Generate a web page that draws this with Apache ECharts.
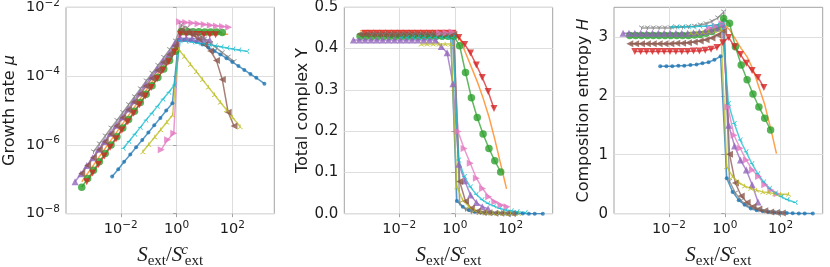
<!DOCTYPE html>
<html><head><meta charset="utf-8">
<script src="https://cdn.jsdelivr.net/npm/echarts@6/dist/echarts.min.js"></script>
<style>html,body{margin:0;padding:0;background:#fff}#c{width:830px;height:267px}</style>
</head><body><div id="c"></div>
<script>
// x values are log10(S_ext / S^c_ext); mu values are log10(growth rate)
const xTickValues = [-2, 0, 2];
const muTickValues = [-8, -6, -4, -2];
const yTickValues = [0, 0.1, 0.2, 0.3, 0.4, 0.5];
const hTickValues = [0, 1, 2, 3];

const xBlue = [-2.31,-2.09,-1.88,-1.66,-1.45,-1.23,-1.01,-0.80,-0.58,-0.37,-0.15,0.07,0.28,0.50,0.71,0.93,1.14,1.36,1.57,1.79,2.00,2.22,2.43,2.65,2.86,3.15];
const muBlue = [-6.92,-6.71,-6.49,-6.28,-6.07,-5.86,-5.64,-5.43,-5.22,-5.00,-4.79,-2.95,-2.95,-2.96,-3.00,-3.08,-3.17,-3.27,-3.37,-3.48,-3.59,-3.71,-3.82,-3.94,-4.05,-4.22];
const yBlue = [0.43,0.43,0.43,0.43,0.43,0.43,0.43,0.43,0.43,0.43,0.43,0.031,0.017,0.009,0.005,0.003,0.002,0.0015,0.001,0.0007,0.0005,0.0003,0.0002,0.0001,0.0001,0.0001];
const hBlue = [2.50,2.50,2.50,2.51,2.51,2.52,2.53,2.55,2.57,2.61,2.67,0.60,0.37,0.23,0.15,0.09,0.06,0.04,0.03,0.02,0.015,0.01,0.007,0.005,0.003,0.002];

const xOrange = [-3.40,-3.19,-2.98,-2.77,-2.56,-2.35,-2.14,-1.93,-1.72,-1.51,-1.30,-1.09,-0.88,-0.67,-0.46,-0.25,-0.04,0.17,0.38,0.59,0.80,1.01,1.22,1.43,1.64,1.85];
const muOrange = [-7.07,-6.83,-6.59,-6.34,-6.10,-5.86,-5.62,-5.38,-5.14,-4.90,-4.66,-4.41,-4.17,-3.93,-3.69,-3.45,-3.18,-2.74,-2.75,-2.75,-2.76,-2.76,-2.77,-2.77,-2.78,-2.78];
const yOrange = [0.443,0.443,0.443,0.443,0.443,0.443,0.443,0.443,0.443,0.443,0.443,0.443,0.443,0.443,0.443,0.443,0.443,0.425,0.39,0.355,0.32,0.28,0.235,0.18,0.12,0.06];
const hOrange = [3.05,3.05,3.05,3.05,3.05,3.05,3.05,3.05,3.05,3.05,3.05,3.06,3.07,3.08,3.10,3.14,3.22,3.12,2.96,2.80,2.66,2.45,2.15,1.85,1.45,1.02];

const xGreen = [-3.40,-3.19,-2.98,-2.77,-2.56,-2.35,-2.14,-1.93,-1.72,-1.51,-1.30,-1.09,-0.88,-0.67,-0.46,-0.25,-0.04,0.17,0.38,0.59,0.80,1.01,1.22,1.43,1.64];
const muGreen = [-7.23,-6.98,-6.74,-6.49,-6.25,-6.00,-5.76,-5.51,-5.26,-5.02,-4.77,-4.53,-4.28,-4.04,-3.79,-3.55,-3.28,-2.70,-2.71,-2.71,-2.71,-2.72,-2.72,-2.72,-2.73];
const yGreen = [0.43,0.43,0.43,0.43,0.43,0.43,0.43,0.43,0.43,0.43,0.43,0.43,0.43,0.43,0.43,0.43,0.43,0.407,0.342,0.281,0.233,0.193,0.158,0.128,0.101];
const hGreen = [3.02,3.02,3.02,3.02,3.02,3.02,3.02,3.02,3.02,3.02,3.02,3.03,3.04,3.06,3.09,3.15,3.31,3.23,2.83,2.52,2.27,2.03,1.81,1.62,1.42];

const xRed = [-3.22,-3.01,-2.80,-2.59,-2.38,-2.17,-1.96,-1.75,-1.54,-1.33,-1.12,-0.91,-0.70,-0.49,-0.28,-0.07,0.14,0.35,0.56,0.77,0.98,1.19,1.40];
const muRed = [-7.07,-6.82,-6.57,-6.32,-6.07,-5.82,-5.57,-5.33,-5.08,-4.83,-4.58,-4.33,-4.08,-3.83,-3.58,-3.30,-2.78,-2.79,-2.79,-2.79,-2.80,-2.80,-2.80];
const yRed = [0.437,0.437,0.437,0.437,0.437,0.437,0.437,0.437,0.437,0.437,0.437,0.437,0.437,0.437,0.437,0.437,0.427,0.41,0.389,0.36,0.33,0.296,0.255];
const hRed = [2.75,2.75,2.75,2.75,2.75,2.75,2.75,2.75,2.75,2.75,2.76,2.76,2.77,2.79,2.82,2.90,2.99,2.83,2.70,2.55,2.43,2.31,2.14];

const xPurple = [-3.64,-3.43,-3.22,-3.01,-2.80,-2.59,-2.38,-2.17,-1.96,-1.75,-1.54,-1.33,-1.12,-0.91,-0.70,-0.49,-0.28,-0.07,0.14,0.35,0.56,0.77,0.98,1.19];
const muPurple = [-7.07,-6.84,-6.60,-6.37,-6.13,-5.90,-5.66,-5.43,-5.19,-4.96,-4.72,-4.49,-4.25,-4.02,-3.79,-3.57,-3.36,-3.05,-2.90,-2.90,-2.91,-2.92,-2.93,-2.95];
const yPurple = [0.421,0.421,0.421,0.421,0.421,0.421,0.421,0.421,0.421,0.421,0.421,0.421,0.421,0.421,0.421,0.405,0.39,0.315,0.12,0.08,0.045,0.027,0.017,0.012];
const hPurple = [3.06,3.06,3.06,3.06,3.06,3.06,3.06,3.06,3.06,3.06,3.06,3.06,3.07,3.08,3.09,3.11,3.15,3.21,1.50,1.15,0.91,0.74,0.49,0.20];

const xBrown = [-3.40,-3.19,-2.98,-2.77,-2.56,-2.35,-2.14,-1.93,-1.72,-1.51,-1.30,-1.09,-0.88,-0.67,-0.46,-0.25,-0.04,0.17,0.38,0.59,0.80,1.01,1.22,1.43,1.64,1.85,2.06];
const muBrown = [-6.83,-6.60,-6.37,-6.14,-5.91,-5.68,-5.45,-5.21,-4.98,-4.75,-4.52,-4.29,-4.06,-3.83,-3.60,-3.37,-3.12,-2.66,-2.72,-2.80,-2.92,-3.08,-3.27,-3.55,-4.10,-5.05,-5.45];
const yBrown = [0.435,0.435,0.435,0.435,0.435,0.435,0.435,0.435,0.435,0.435,0.435,0.435,0.435,0.435,0.435,0.435,0.435,0.078,0.030,0.013,0.006,0.003,0.002,0.001,0.001,0.0005,0.0003];
const hBrown = [2.88,2.88,2.88,2.88,2.88,2.88,2.88,2.88,2.89,2.89,2.90,2.91,2.93,2.95,2.98,3.03,3.10,1.01,0.52,0.30,0.19,0.12,0.08,0.05,0.03,0.02,0.01];

const xPink = [-0.55,-0.32,-0.10,0.11,0.33,0.55,0.77,0.99,1.21,1.43,1.65,1.87];
const muPink = [-6.14,-5.85,-5.66,-2.42,-2.44,-2.46,-2.48,-2.50,-2.52,-2.54,-2.56,-2.58];
const yPink = [0.437,0.438,0.44,0.199,0.158,0.122,0.086,0.061,0.041,0.029,0.021,0.017];
const hPink = [3.15,3.18,3.22,1.81,1.33,1.11,0.91,0.74,0.63,0.49,0.40,0.34];

const xGray = [-2.98,-2.77,-2.56,-2.35,-2.14,-1.93,-1.72,-1.51,-1.30,-1.09,-0.88,-0.67,-0.46,-0.25,-0.04,0.17,0.38,0.59,0.80,1.01,1.22,1.43,1.64,1.85,2.06];
const muGray = [-6.20,-5.97,-5.74,-5.51,-5.29,-5.06,-4.83,-4.60,-4.37,-4.14,-3.92,-3.69,-3.46,-3.23,-2.98,-2.52,-2.60,-2.70,-2.80,-2.92,-3.05,-3.18,-3.32,-3.45,-3.58];
const yGray = [0.433,0.433,0.433,0.433,0.433,0.433,0.433,0.433,0.433,0.433,0.433,0.433,0.433,0.433,0.433,0.025,0.010,0.004,0.002,0.001,0.0007,0.0005,0.0003,0.0002,0.0001];
const hGray = [3.15,3.15,3.15,3.15,3.15,3.15,3.16,3.16,3.17,3.18,3.20,3.22,3.26,3.32,3.42,0.55,0.35,0.22,0.14,0.09,0.06,0.04,0.03,0.02,0.01];

const xOlive = [-1.21,-1.00,-0.78,-0.57,-0.35,-0.14,0.07,0.28,0.50,0.71,0.93,1.14,1.36,1.57,1.79,2.00,2.28];
const muOlive = [-6.20,-5.99,-5.77,-5.56,-5.34,-5.13,-3.22,-3.43,-3.66,-3.87,-4.10,-4.32,-4.54,-4.76,-4.98,-5.19,-5.47];
const yOlive = [0.411,0.411,0.411,0.411,0.411,0.411,0.065,0.033,0.017,0.009,0.005,0.003,0.002,0.0015,0.001,0.001,0.0008];
const hOlive = [3.07,3.07,3.08,3.09,3.10,3.13,0.80,0.63,0.53,0.47,0.43,0.40,0.37,0.36,0.34,0.33,0.33];

const xCyan = [-1.91,-1.71,-1.50,-1.30,-1.10,-0.89,-0.69,-0.49,-0.28,-0.08,0.13,0.34,0.55,0.76,0.97,1.18,1.39,1.60,1.81,2.02,2.23,2.52];
const muCyan = [-6.10,-5.90,-5.69,-5.49,-5.28,-5.08,-4.88,-4.67,-4.47,-4.26,-2.97,-2.99,-3.01,-3.04,-3.06,-3.09,-3.12,-3.15,-3.18,-3.21,-3.24,-3.28];
const yCyan = [0.427,0.427,0.427,0.427,0.427,0.427,0.427,0.427,0.427,0.427,0.13,0.09,0.065,0.047,0.034,0.025,0.019,0.013,0.009,0.007,0.005,0.003];
const hCyan = [3.17,3.17,3.17,3.17,3.17,3.18,3.18,3.19,3.20,3.22,1.87,1.53,1.25,1.05,0.85,0.68,0.54,0.43,0.35,0.29,0.24,0.19];

// ---------- styling ----------
const SPINE = '#a3a3a3', GRIDC = '#dedede', TXT = '#1c1c1c';
const XMIN = -3.965, XMAX = 3.505;
const TRI_DOWN = 'path://M5,5L5,10M5,5L0.67,2.5M5,5L9.33,2.5';
const TRI_UP = 'path://M5,5L5,0M5,5L0.67,7.5M5,5L9.33,7.5';
const TRI_LEFT = 'path://M5,5L0,5M5,5L7.5,0.67M5,5L7.5,9.33';

const defs = [
  {c:'#1f77b4', x:xBlue, a:muBlue, b:yBlue, h:hBlue, sym:'circle', size:4, rot:0, line:false},
  {c:'#ff7f0e', x:xOrange, a:muOrange, b:yOrange, h:hOrange, sym:'none', size:0, rot:0, line:false},
  {c:'#2ca02c', x:xGreen, a:muGreen, b:yGreen, h:hGreen, sym:'circle', size:7.5, rot:0, line:false},
  {c:'#d62728', x:xRed, a:muRed, b:yRed, h:hRed, sym:'triangle', size:7, rot:180, line:false},
  {c:'#9467bd', x:xPurple, a:muPurple, b:yPurple, h:hPurple, sym:'triangle', size:7, rot:0, line:false},
  {c:'#8c564b', x:xBrown, a:muBrown, b:yBrown, h:hBrown, sym:'triangle', size:7, rot:90, line:false},
  {c:'#e377c2', x:xPink, a:muPink, b:yPink, h:hPink, sym:'triangle', size:7, rot:-90, line:false},
  {c:'#7f7f7f', x:xGray, a:muGray, b:yGray, h:hGray, sym:TRI_DOWN, size:5, rot:0, line:true},
  {c:'#bcbd22', x:xOlive, a:muOlive, b:yOlive, h:hOlive, sym:TRI_UP, size:5, rot:0, line:true},
  {c:'#17becf', x:xCyan, a:muCyan, b:yCyan, h:hCyan, sym:TRI_LEFT, size:5, rot:0, line:true}
];

function gridAt(left, width) {
  return {left:left, top:7.3, width:width, height:206.4, show:true, borderColor:SPINE, borderWidth:1,
    containLabel:false, outerBoundsMode:'none'};
}
const grids = [gridAt(66, 208.3), gridAt(344.3, 208.4), gridAt(614, 208.7)];

const powRich = {
  b: {fontFamily:'DejaVu Sans', fontSize:14.5, color:TXT, lineHeight:20},
  s: {fontFamily:'DejaVu Sans', fontSize:10.5, color:TXT, lineHeight:12, verticalAlign:'top'}
};
function powFmt(v) {
  const e = Math.round(v);
  return '{b|10}{s|' + (e < 0 ? '\u2212' + (-e) : e) + '}';
}
const xNameStr = '{s|S}{sub|ext}{sl|/}{s|S}{g| }{sup|c}{sub|ext}';
const xNameRich = {
  s: {fontFamily:'Liberation Serif', fontStyle:'italic', fontSize:21, lineHeight:26, color:TXT},
  sl: {fontFamily:'Liberation Serif', fontSize:21, lineHeight:26, color:TXT},
  g: {fontFamily:'Liberation Serif', fontSize:15, width:2, lineHeight:10, color:TXT},
  sub: {fontFamily:'Liberation Serif', fontSize:15, lineHeight:11, verticalAlign:'bottom', color:TXT},
  sup: {fontFamily:'Liberation Serif', fontStyle:'italic', fontSize:15, lineHeight:14, verticalAlign:'top',
    width:0.5, align:'left', color:TXT}
};

function makeX(gi) {
  return {
    type:'value', gridIndex:gi, min:XMIN, max:XMAX,
    name:xNameStr, nameLocation:'middle', nameGap:22,
    nameTextStyle:{rich:xNameRich},
    axisLine:{show:false},
    axisTick:{show:true, inside:false, length:3.5, customValues:xTickValues, lineStyle:{color:SPINE, width:1}},
    axisLabel:{customValues:xTickValues, formatter:powFmt, rich:powRich, margin:6, color:TXT},
    splitLine:{show:true, lineStyle:{color:GRIDC, width:1}}
  };
}
function makeY(gi, min, max, ticks, fmt, name, rich, gap) {
  return {
    type:'value', gridIndex:gi, min:min, max:max,
    name:name, nameLocation:'middle', nameGap:gap, nameRotate:90,
    nameTextStyle:{fontFamily:'DejaVu Sans', fontSize:16, color:TXT, rich:rich},
    axisLine:{show:false},
    axisTick:{show:true, inside:false, length:3.5, customValues:ticks, lineStyle:{color:SPINE, width:1}},
    axisLabel:{customValues:ticks, formatter:fmt, margin:6, color:TXT, fontFamily:'DejaVu Sans', fontSize:15,
      rich: fmt === powFmt ? powRich : undefined},
    splitLine:{show:true, lineStyle:{color:GRIDC, width:1}}
  };
}
const nameRich = {
  n: {fontFamily:'DejaVu Sans', fontSize:16, color:TXT},
  i: {fontFamily:'DejaVu Sans', fontStyle:'italic', fontSize:16, color:TXT}
};

const series = [];
const panels = ['a', 'b', 'h'];
panels.forEach(function (key, gi) {
  defs.forEach(function (d) {
    const vals = d[key];
    series.push({
      type:'line', xAxisIndex:gi, yAxisIndex:gi,
      data: d.x.map(function (xv, i) { return [xv, vals[i]]; }),
      symbol: d.sym, symbolSize: d.size, symbolRotate: d.rot, symbolKeepAspect: true,
      showSymbol: d.sym !== 'none', showAllSymbol: true,
      lineStyle:{color:d.c, width:1.5, opacity:0.75},
      itemStyle:{color: d.line ? 'rgba(0,0,0,0)' : d.c, borderColor:d.c, borderWidth: d.line ? 1 : 0, opacity:0.8},
      emphasis:{disabled:true}, silent:true, clip:true
    });
  });
});

const chart = echarts.init(document.getElementById('c'), null, {renderer:'canvas'});
chart.setOption({
  animation:false,
  backgroundColor:'#ffffff',
  grid: grids,
  xAxis: [makeX(0), makeX(1), makeX(2)],
  yAxis: [
    makeY(0, -8, -2, muTickValues, powFmt, '{n|Growth rate }{i|\u03bc}', nameRich, 48),
    makeY(1, 0, 0.5, yTickValues, function (v) { return v.toFixed(1); }, 'Total complex Y', null, 33),
    makeY(2, 0, 3.5, hTickValues, function (v) { return String(v); }, '{n|Composition entropy }{i|H}', nameRich, 22)
  ],
  series: series
});
</script></body></html>
